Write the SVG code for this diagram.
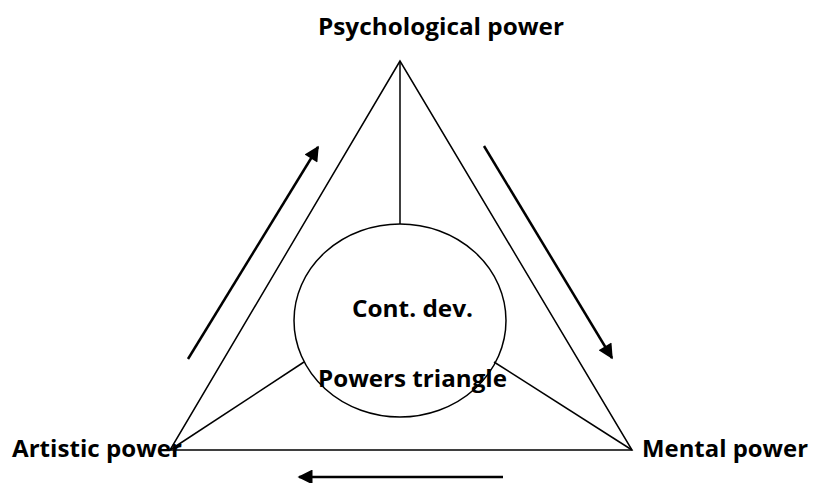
<svg xmlns="http://www.w3.org/2000/svg" width="814" height="483" viewBox="0 0 814 483">
<style>
.ln{stroke:#000;stroke-width:1.5;fill:none}
.ar{stroke:#000;stroke-width:2.5;fill:none}
.t{font-family:"Open Sans","Liberation Sans",sans-serif;font-weight:bold;font-size:24px;fill:#000}
</style>
<defs>
<marker id="ah" viewBox="0 0 10 10" refX="9" refY="5" markerWidth="6.5" markerHeight="6" markerUnits="strokeWidth" orient="auto">
<path d="M0,0 L10,5 L0,10 Z" fill="#000"/>
</marker>
</defs>
<rect width="814" height="483" fill="#fff"/>
<g id="connectors">
<polygon class="ln" points="400,61 170,450 632,450"/>
<line class="ln" x1="400" y1="61" x2="400" y2="224"/>
<line class="ln" x1="170" y1="450" x2="304" y2="362"/>
<line class="ln" x1="632" y1="450" x2="494" y2="362"/>
<line class="ar" x1="188" y1="359" x2="318" y2="147" marker-end="url(#ah)"/>
<line class="ar" x1="484" y1="146" x2="612" y2="358" marker-end="url(#ah)"/>
<line class="ar" x1="503" y1="477" x2="299" y2="477" marker-end="url(#ah)"/>
</g>
<g id="center">
<ellipse class="ln" cx="400" cy="320.5" rx="106" ry="96.5"/>
<text class="t" x="352" y="317" textLength="121" lengthAdjust="spacingAndGlyphs">Cont. dev.</text>
<text class="t" x="318" y="387" textLength="189" lengthAdjust="spacingAndGlyphs">Powers triangle</text>
</g>
<g id="psychological">
<text class="t" x="318" y="35" textLength="246" lengthAdjust="spacingAndGlyphs">Psychological power</text>
</g>
<g id="artistic">
<text class="t" x="12" y="457" textLength="170" lengthAdjust="spacingAndGlyphs">Artistic power</text>
</g>
<g id="mental">
<text class="t" x="642" y="457" textLength="166" lengthAdjust="spacingAndGlyphs">Mental power</text>
</g>
</svg>
